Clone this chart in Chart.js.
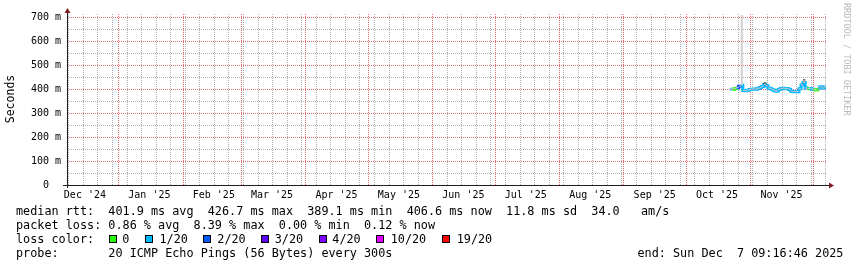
<!DOCTYPE html>
<html><head><meta charset="utf-8">
<script src="https://cdn.jsdelivr.net/npm/chart.js@4/dist/chart.umd.min.js"></script>
<style>
html,body{margin:0;padding:0;background:#fff;}
#wrap{position:relative;width:857px;height:267px;overflow:hidden;font-family:"DejaVu Sans Mono",monospace;background:#fff;}
#c{position:absolute;left:0;top:0;}
.ln{position:absolute;font-size:11.8px;line-height:14px;white-space:pre;color:#000;}
.box{position:absolute;top:235px;width:6px;height:6px;border:1px solid #000;}
#wm{position:absolute;left:842px;top:3px;font-size:8.5px;line-height:10px;color:#b8b8b8;writing-mode:vertical-rl;white-space:pre;}
</style></head>
<body>
<div id="wrap">
<canvas id="c" width="857" height="267"></canvas>
<div id="wm">RRDTOOL / TOBI OETIKER</div>
<div class="ln" style="left:16px;top:204px">median rtt:  401.9 ms avg  426.7 ms max  389.1 ms min  406.6 ms now  11.8 ms sd  34.0   am/s</div>
<div class="ln" style="left:16px;top:218px">packet loss: 0.86 % avg  8.39 % max  0.00 % min  0.12 % now</div>
<div class="ln" style="left:16px;top:232px">loss color:</div>
<div id="legend"></div>
<div class="ln" style="left:16px;top:246px">probe:       20 ICMP Echo Pings (56 Bytes) every 300s</div>
<div class="ln" style="left:637.5px;top:246px">end: Sun Dec  7 09:16:46 2025</div>
</div>
<script>
// ---------- data ----------
const END = '2025-12-07T09:16:46Z';
const SPAN_DAYS = 365;
const dates = [
 '2025-10-22','2025-10-23','2025-10-24','2025-10-25','2025-10-26','2025-10-27','2025-10-28','2025-10-29','2025-10-30','2025-10-31',
 '2025-11-01','2025-11-02','2025-11-03','2025-11-04','2025-11-05','2025-11-06','2025-11-07','2025-11-08','2025-11-09','2025-11-10',
 '2025-11-11','2025-11-12','2025-11-13','2025-11-14','2025-11-15','2025-11-16','2025-11-17','2025-11-18','2025-11-19','2025-11-20',
 '2025-11-21','2025-11-22','2025-11-23','2025-11-24','2025-11-25','2025-11-26','2025-11-27','2025-11-28','2025-11-29','2025-11-30',
 '2025-12-01','2025-12-02','2025-12-03','2025-12-04','2025-12-05','2025-12-06','2025-12-07'];
const medianMs = [
 399,399,402,405,411,416,394,393,395,398,
 399,400,399,402,406,410,419,414,404,401,
 397,392,391,398,402,403,401,402,398,391,
 389,390,389,401,417,427,404,401,402,399,
 397,396,404,409,404,408,407];
const lostPings = [
 1,1,0,0,2,2,1,1,1,1,
 1,1,1,1,1,1,1,1,1,1,
 1,1,1,1,1,1,1,1,1,1,
 1,1,1,1,1,1,1,1,0,1,
 1,0,0,1,1,1,1];
const smokeLoMs = [
 397,397,400,403,409,414,392,391,393,396,
 397,398,397,400,404,408,417,412,402,399,
 395,390,389,396,400,401,399,400,396,389,
 387,388,387,399,415,425,402,399,400,397,
 395,394,402,407,402,406,405];
const smokeHiMs = [
 402,402,405,408,414,708,397,396,398,401,
 402,403,402,405,409,413,423,417,407,404,
 400,395,394,401,405,406,404,405,401,394,
 392,393,392,404,421,436,407,404,405,402,
 400,399,407,412,407,411,410];
const smokeDarkHiMs = [
 400,400,403,406,412,417,395,394,396,399,
 400,401,400,403,407,411,428,418,405,402,
 398,393,392,399,403,404,402,403,399,392,
 390,391,390,402,422,441,405,402,403,400,
 398,397,405,410,405,409,408];
const yTicks = [0,100,200,300,400,500,600,700];
const yTickLabels = ['0  ','100 m','200 m','300 m','400 m','500 m','600 m','700 m'];
const monthLabelDates = ['2024-12-16','2025-01-16','2025-02-16','2025-03-16','2025-04-16','2025-05-16','2025-06-16','2025-07-16','2025-08-16','2025-09-16','2025-10-16','2025-11-16'];
const monthLabels = ["Dec '24","Jan '25","Feb '25","Mar '25","Apr '25","May '25","Jun '25","Jul '25","Aug '25","Sep '25","Oct '25","Nov '25"];
const lossLegend = ['0','1/20','2/20','3/20','4/20','10/20','19/20'];
const lossLegendColors = ['#26ff00','#00b8ff','#0059ff','#5e00ff','#7e00ff','#dd00ff','#ff0000'];

// ---------- legend boxes ----------
const boxX = [108.5,145,202.5,260.5,318.5,376,442];
const txtX = [122.3,159.5,217.3,274.7,332.3,390.7,456.7];
const lg = document.getElementById('legend');
lossLegend.forEach((l,i)=>{
  const b=document.createElement('div'); b.className='box'; b.style.left=boxX[i]+'px'; b.style.background=lossLegendColors[i]; lg.appendChild(b);
  const t=document.createElement('div'); t.className='ln'; t.style.left=txtX[i]+'px'; t.style.top='232px'; t.textContent=l; lg.appendChild(t);
});

// ---------- helpers ----------
const DAY = 86400000;
const endT = Date.parse(END);
const startT = endT - SPAN_DAYS*DAY;
const tOf = d => Date.parse(d + 'T09:16:46Z');
function lossColor(n){
  if(n<=0) return lossLegendColors[0];
  if(n===1) return lossLegendColors[1];
  if(n===2) return lossLegendColors[2];
  if(n===3) return lossLegendColors[3];
  if(n<10) return lossLegendColors[4];
  if(n<19) return lossLegendColors[5];
  return lossLegendColors[6];
}
const pts = arr => dates.map((d,i)=>({x:tOf(d), y:arr[i]}));

// calendar grid positions (month starts, weekly Sundays)
const monthStarts=[], weekStarts=[];
for(let m=0; m<14; m++){ const t=Date.UTC(2024,11+m,1); if(t>=startT && t<=endT) monthStarts.push(t); }
for(let w=0; w<60; w++){ const t=Date.UTC(2024,11,1)+w*7*DAY; if(t>=startT && t<=endT && monthStarts.indexOf(t)<0) weekStarts.push(t); }

const MINOR='rgb(178,178,178)', MAJOR='rgb(230,110,110)', AXIS='#1f1f1f', ARROW='#801f1f';
const gridPlugin = {
  id:'rrdgrid',
  beforeDatasetsDraw(chart){
    const {ctx, chartArea:a, scales:{x,y}} = chart;
    ctx.save(); ctx.lineWidth=1; ctx.setLineDash([1,1]);
    const hl=(v)=>{const py=Math.round(y.getPixelForValue(v))+0.5; ctx.beginPath(); ctx.moveTo(a.left,py); ctx.lineTo(a.right,py); ctx.stroke();};
    const vl=(t)=>{const px=Math.round(x.getPixelForValue(t))+0.5; ctx.beginPath(); ctx.moveTo(px,a.bottom); ctx.lineTo(px,a.top); ctx.stroke();};
    ctx.strokeStyle=MINOR;
    [50,150,250,350,450,550,650].forEach(v=>hl(v));
    weekStarts.forEach(t=>vl(t));
    ctx.strokeStyle=MAJOR;
    yTicks.filter(v=>v>0).forEach(v=>hl(v));
    monthStarts.forEach(t=>vl(t));
    ctx.restore();
  },
  afterDatasetsDraw(chart){
    const {ctx, chartArea:a} = chart;
    ctx.save(); ctx.setLineDash([]); ctx.lineWidth=1; ctx.strokeStyle=AXIS;
    ctx.beginPath(); ctx.moveTo(a.left-4, a.bottom+0.5); ctx.lineTo(a.right+3, a.bottom+0.5); ctx.stroke();
    ctx.beginPath(); ctx.moveTo(a.left+0.5, a.bottom+3); ctx.lineTo(a.left+0.5, a.top-1); ctx.stroke();
    ctx.fillStyle=ARROW;
    ctx.beginPath(); ctx.moveTo(a.right+3, a.bottom-2.5); ctx.lineTo(a.right+8, a.bottom+0.5); ctx.lineTo(a.right+3, a.bottom+3.5); ctx.closePath(); ctx.fill();
    ctx.beginPath(); ctx.moveTo(a.left-2.5, a.top); ctx.lineTo(a.left+0.5, a.top-5); ctx.lineTo(a.left+3.5, a.top); ctx.closePath(); ctx.fill();
    ctx.restore();
  }
};

const FONT='DejaVu Sans Mono';
new Chart(document.getElementById('c'), {
  type:'line',
  data:{ datasets:[
    {data:pts(smokeLoMs), stepped:'before', borderWidth:0, pointRadius:0, fill:false},
    {data:pts(smokeHiMs), stepped:'before', borderWidth:0, pointRadius:0, fill:'-1', backgroundColor:'rgba(205,205,205,0.9)'},
    {data:pts(medianMs), stepped:'before', borderWidth:0, pointRadius:0, fill:false},
    {data:pts(smokeDarkHiMs), stepped:'before', borderWidth:0, pointRadius:0, fill:'-1', backgroundColor:'rgba(30,30,30,0.9)'},
    {data:pts(medianMs), stepped:'before', borderWidth:3, pointRadius:0, fill:false, borderColor:'#00b8ff',
     segment:{ borderColor: c => lossColor(lostPings[c.p1DataIndex]) }}
  ]},
  options:{
    responsive:false, animation:false, events:[],
    layout:{padding:{left:0,right:31,top:13,bottom:62}},
    plugins:{legend:{display:false}, tooltip:{enabled:false}},
    scales:{
      x:{type:'linear', min:startT, max:endT,
         grid:{display:false, drawTicks:false}, border:{display:false},
         afterBuildTicks:s=>{s.ticks=monthLabelDates.map(d=>({value:Date.parse(d+'T00:00:00Z')}));},
         afterFit:s=>{s.height=20;},
         ticks:{autoSkip:false, maxRotation:0, padding:4, color:'#000', font:{family:FONT,size:10},
                callback:(v,i)=>monthLabels[i]}},
      y:{type:'linear', min:0, max:716.67,
         grid:{display:false, drawTicks:false}, border:{display:false},
         afterBuildTicks:s=>{s.ticks=yTicks.map(v=>({value:v}));},
         afterFit:s=>{s.width=67;},
         title:{display:true, text:'Seconds', color:'#000', font:{family:FONT,size:11.5}, padding:{top:4,bottom:0}},
         ticks:{padding:6, color:'#000', font:{family:FONT,size:10}, callback:(v,i)=>yTickLabels[i]}}
    }
  },
  plugins:[gridPlugin]
});
</script>
</body></html>
